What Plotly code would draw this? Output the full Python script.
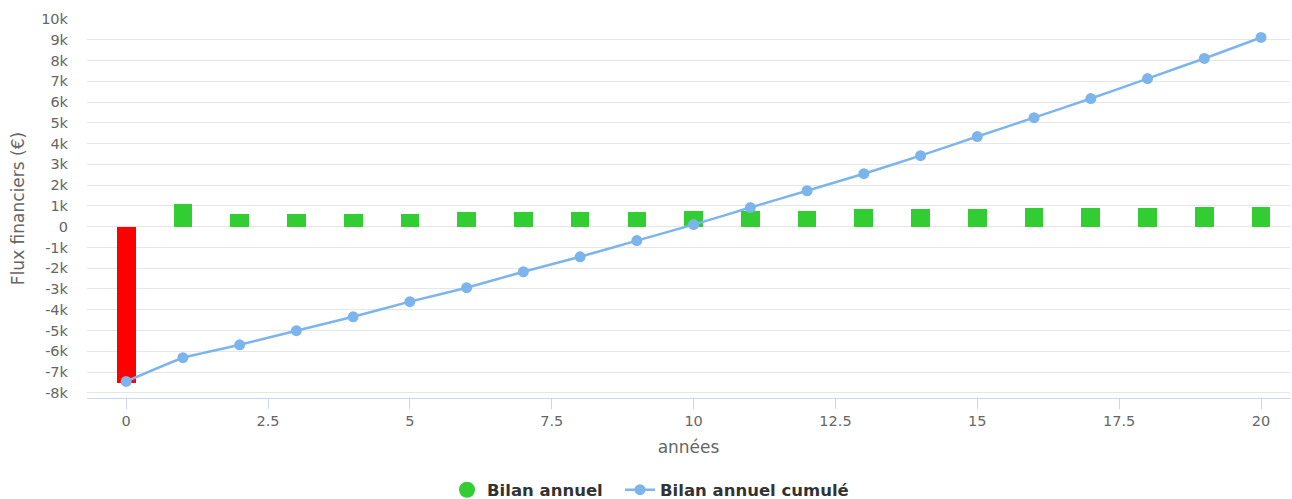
import plotly.graph_objects as go

# Years of the projection
annees = list(range(0, 21))

# Yearly balance (€)
bilan_annuel = [-7550, 1100, 630, 630, 630, 630, 720, 720, 720, 720, 770,
                770, 770, 870, 870, 870, 920, 920, 920, 960, 960]

# Cumulated balance (€)
bilan_cumule = [-7450, -6310, -5690, -5010, -4340, -3610, -2940, -2170, -1450, -670, 100,
                920, 1730, 2550, 3420, 4340, 5250, 6170, 7130, 8100, 9110]

# Y tick values and labels
y_ticks = list(range(-8000, 10001, 1000))
y_labels = [("0" if v == 0 else f"{v // 1000}k") for v in y_ticks]

# X tick values
x_ticks = [0, 2.5, 5, 7.5, 10, 12.5, 15, 17.5, 20]
x_labels = ["0", "2.5", "5", "7.5", "10", "12.5", "15", "17.5", "20"]

GREEN = "#32cd32"
RED = "#ff0000"
BLUE = "#7cb5ec"
FONT = "DejaVu Sans"

bar_colors = [RED if v < 0 else GREEN for v in bilan_annuel]

fig = go.Figure()

fig.add_trace(go.Bar(
    x=annees, y=bilan_annuel, width=0.33,
    marker=dict(color=bar_colors, line=dict(width=0)),
    name="Bilan annuel", showlegend=False,
))

# Legend entry for the yearly balance, drawn as a circle symbol
fig.add_trace(go.Scatter(
    x=[None], y=[None], mode="markers",
    marker=dict(color=GREEN, size=17, symbol="circle"),
    name="Bilan annuel", showlegend=True, legend="legend",
))

fig.add_trace(go.Scatter(
    x=annees, y=bilan_cumule, mode="lines+markers",
    line=dict(color=BLUE, width=2.5, shape="spline", smoothing=0.3),
    marker=dict(color=BLUE, size=11),
    name="Bilan annuel cumulé", showlegend=True, legend="legend2",
))

legend_font = dict(family=FONT, size=16.5, color="#333333", weight="bold")
legend_y = (499 - 490) / 499

fig.update_layout(
    width=1292, height=499,
    margin=dict(l=87, r=2, t=19, b=101, autoexpand=False),
    paper_bgcolor="white", plot_bgcolor="white",
    font=dict(family=FONT, size=14.5, color="#666666"),
    bargap=0,
    legend=dict(
        orientation="h", xref="container", yref="container",
        x=447 / 1292, xanchor="left", y=legend_y, yanchor="middle",
        font=legend_font, itemsizing="trace",
    ),
    legend2=dict(
        orientation="h", xref="container", yref="container",
        x=620 / 1292, xanchor="left", y=legend_y, yanchor="middle",
        font=legend_font, itemsizing="trace",
    ),
    xaxis=dict(
        range=[-0.69, 20.51],
        tickvals=x_ticks, ticktext=x_labels,
        showgrid=False, zeroline=False, automargin=False,
        showline=True, linecolor="#ccd6eb", linewidth=1,
        ticks="outside", tickcolor="#ccd6eb", ticklen=10,
        tickfont=dict(family=FONT, size=14.5, color="#666666"),
        title=dict(text="années", font=dict(family=FONT, size=17, color="#666666"), standoff=12),
    ),
    yaxis=dict(
        range=[-8250, 10000],
        tickvals=y_ticks, ticktext=y_labels,
        showgrid=True, gridcolor="#e6e6e6", gridwidth=1,
        zeroline=False, showline=False, automargin=False,
        ticklabelstandoff=18,
        tickfont=dict(family=FONT, size=14.5, color="#666666"),
        title=dict(text="Flux financiers (€)", font=dict(family=FONT, size=17, color="#666666"), standoff=12),
    ),
)

fig.write_html("out.html")
